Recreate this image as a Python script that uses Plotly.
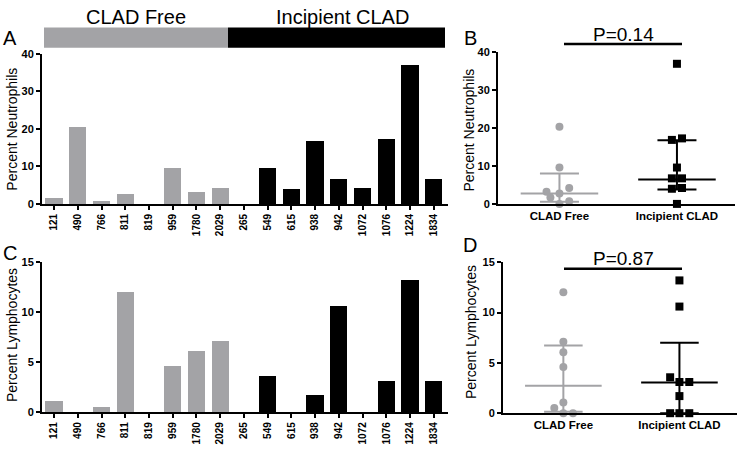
import plotly.graph_objects as go

# ---------------- data ----------------
patients = ["121", "490", "766", "811", "819", "959", "1780", "2029",
            "265", "549", "615", "938", "942", "1072", "1076", "1224", "1834"]
groups = ["CLAD Free"] * 8 + ["Incipient CLAD"] * 9
neutrophils = [1.7, 20.4, 0.7, 2.75, 0.0, 9.6, 3.2, 4.2,
               0.0, 9.6, 4.0, 16.9, 6.75, 4.2, 17.3, 37.0, 6.75]
lymphocytes = [1.07, 0.0, 0.52, 12.03, 0.0, 4.58, 6.07, 7.1,
               0.0, 3.57, 0.0, 1.7, 10.6, 0.0, 3.1, 13.2, 3.1]
group_names = ["CLAD Free", "Incipient CLAD"]

neut_median = [2.75, 6.45]
neut_q1 = [0.6, 3.8]
neut_q3 = [8.0, 16.8]
lymph_median = [2.74, 3.06]
lymph_q1 = [0.15, 0.0]
lymph_q3 = [6.74, 7.0]
p_values = ["P=0.14", "P=0.87"]

# horizontal scatter (jitter) of dots in panels B and D, per patient
jitter_neut = [-0.077, 0, 0.083, 0, 0, 0, -0.11, 0.083,
               0, 0, -0.043, -0.043, -0.043, 0.043, 0.043, 0, 0.043]
jitter_lymph = [0, 0, -0.078, 0, 0.083, 0, 0, 0,
                -0.08, -0.08, 0, 0, 0, 0.085, 0, 0, 0.085]

GRAY = "#a3a3a6"
BLACK = "#000000"
W, H = 741, 452
FONT = "Liberation Sans, Arial, sans-serif"


def px(x):
    return x / W


def py(y):
    return 1 - y / H


fig = go.Figure()

# ---------- Panels A & C: bars ----------
for vals, xa, ya in [(neutrophils, "x", "y"), (lymphocytes, "x3", "y3")]:
    for gname, col in zip(group_names, [GRAY, BLACK]):
        xs = [p for p, g in zip(patients, groups) if g == gname]
        ys = [v for v, g in zip(vals, groups) if g == gname]
        fig.add_trace(go.Bar(x=xs, y=ys, marker=dict(color=col, line=dict(width=0)),
                             width=0.73, xaxis=xa, yaxis=ya, showlegend=False))


# ---------- Panels B & D: dot plots ----------
def add_dots(vals, jit, med, q1, q3, xa, ya):
    for gi, (gname, col, sym) in enumerate(zip(group_names, [GRAY, BLACK], ["circle", "square"])):
        xs = [gi + j for j, g in zip(jit, groups) if g == gname]
        ys = [v for v, g in zip(vals, groups) if g == gname]
        lx = [gi - 0.33, gi + 0.33, None, gi, gi, None,
              gi - 0.166, gi + 0.166, None, gi - 0.166, gi + 0.166]
        ly = [med[gi], med[gi], None, q1[gi], q3[gi], None,
              q1[gi], q1[gi], None, q3[gi], q3[gi]]
        fig.add_trace(go.Scatter(x=lx, y=ly, mode="lines", line=dict(color=col, width=2),
                                 xaxis=xa, yaxis=ya, showlegend=False, cliponaxis=False))
        fig.add_trace(go.Scatter(x=xs, y=ys, mode="markers",
                                 marker=dict(color=col, symbol=sym, size=8, line=dict(width=0)),
                                 xaxis=xa, yaxis=ya, showlegend=False, cliponaxis=False))


add_dots(neutrophils, jitter_neut, neut_median, neut_q1, neut_q3, "x2", "y2")
add_dots(lymphocytes, jitter_lymph, lymph_median, lymph_q1, lymph_q3, "x4", "y4")

axis_common = dict(showline=True, linecolor="black", linewidth=2, showgrid=False,
                   zeroline=False, ticks="outside", ticklen=4, tickwidth=1.5,
                   tickcolor="black",
                   tickfont=dict(family=FONT, size=11, color="black", weight=700))

cat_axis = dict(axis_common, type="category", categoryorder="array", categoryarray=patients,
                range=[-0.507, 16.6], tickangle=-90,
                tickfont=dict(family=FONT, size=10, color="black", weight=700))

grp_axis = dict(axis_common, tickvals=[0, 1], ticktext=group_names, ticks="",
                tickfont=dict(family=FONT, size=11.5, color="black", weight=700))

fig.update_layout(
    width=W, height=H, margin=dict(l=0, r=0, t=0, b=0),
    paper_bgcolor="white", plot_bgcolor="white", bargap=0,
    xaxis=dict(cat_axis, domain=[px(42), px(448)], anchor="y"),
    yaxis=dict(axis_common, domain=[py(203.3), py(49.3)], range=[0, 40],
               tickvals=[0, 10, 20, 30, 40], anchor="x"),
    xaxis3=dict(cat_axis, domain=[px(42), px(448)], anchor="y3"),
    yaxis3=dict(axis_common, domain=[py(417.3), py(263.3)], range=[0, 15],
                tickvals=[0, 5, 10, 15], anchor="x3"),
    xaxis2=dict(grp_axis, domain=[px(498), px(735)], range=[-0.523, 1.494], anchor="y2"),
    yaxis2=dict(axis_common, domain=[py(203.3), py(47.7)], range=[0, 40],
                tickvals=[0, 10, 20, 30, 40], anchor="x2"),
    xaxis4=dict(grp_axis, domain=[px(503), px(737)], range=[-0.52, 1.496], anchor="y4"),
    yaxis4=dict(axis_common, domain=[py(418.3), py(263.3)], range=[0, 15],
                tickvals=[0, 5, 10, 15], anchor="x4"),
)

shapes = [
    dict(type="rect", xref="paper", yref="paper", x0=px(44), x1=px(228), y0=py(43), y1=py(22),
         fillcolor=GRAY, line=dict(width=0)),
    dict(type="rect", xref="paper", yref="paper", x0=px(228), x1=px(445), y0=py(43), y1=py(22),
         fillcolor=BLACK, line=dict(width=0)),
    dict(type="line", xref="paper", yref="paper", x0=px(564), x1=px(682), y0=py(39), y1=py(39),
         line=dict(color="black", width=2.5)),
    dict(type="line", xref="paper", yref="paper", x0=px(564), x1=px(682), y0=py(270), y1=py(270),
         line=dict(color="black", width=2.5)),
]
fig.update_layout(shapes=shapes)


def ann(text, x, y, size, angle=0):
    fig.add_annotation(text=text, x=px(x), y=py(y), xref="paper", yref="paper",
                       showarrow=False, xanchor="center", yanchor="middle", textangle=angle,
                       font=dict(family=FONT, size=size, color="black"))


ann(group_names[0], 136, 11, 20)
ann(group_names[1], 342, 11, 20)
ann("A", 10, 33, 20)
ann("B", 470, 33, 20)
ann("C", 10, 254, 20)
ann("D", 470, 246, 20)
ann(p_values[0], 623, 29, 19)
ann(p_values[1], 623, 259, 19)
ann("Percent Neutrophils", 12, 127, 14, -90)
ann("Percent Lymphocytes", 12, 338, 14, -90)
ann("Percent Neutrophils", 469, 128, 14, -90)
ann("Percent Lymphocytes", 471, 335, 14, -90)

fig.write_html("out.html", config={"displayModeBar": False},
               post_script="document.body.style.margin='0';document.body.style.padding='0';")
